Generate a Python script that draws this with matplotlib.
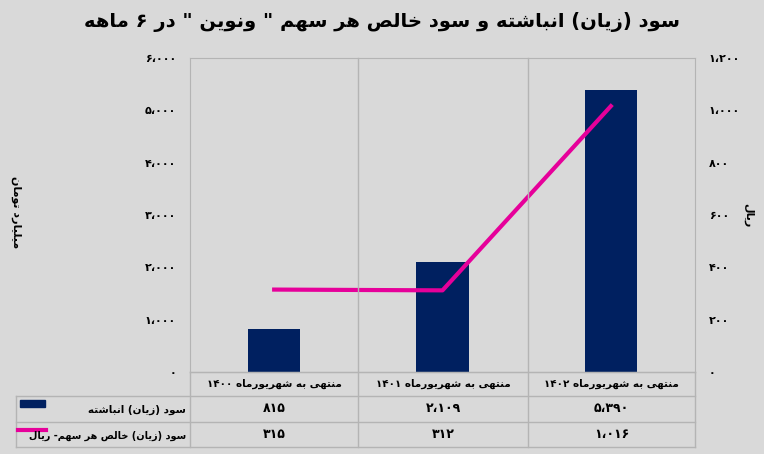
import matplotlib
matplotlib.use("Agg")
import matplotlib.pyplot as plt
from matplotlib.lines import Line2D

categories = ["منتهی به شهریورماه ۱۴۰۰", "منتهی به شهریورماه ۱۴۰۱", "منتهی به شهریورماه ۱۴۰۲"]
bar_values = [815, 2109, 5390]
line_values = [315, 312, 1016]
bar_labels = ["۸۱۵", "۲،۱۰۹", "۵،۳۹۰"]
line_labels = ["۳۱۵", "۳۱۲", "۱،۰۱۶"]
left_ticks = [0, 1000, 2000, 3000, 4000, 5000, 6000]
left_tick_labels = ["۰", "۱،۰۰۰", "۲،۰۰۰", "۳،۰۰۰", "۴،۰۰۰", "۵،۰۰۰", "۶،۰۰۰"]
right_ticks = [0, 200, 400, 600, 800, 1000, 1200]
right_tick_labels = ["۰", "۲۰۰", "۴۰۰", "۶۰۰", "۸۰۰", "۱،۰۰۰", "۱،۲۰۰"]
title = 'سود (زیان) انباشته و سود خالص هر سهم " ونوین " در ۶ ماهه'
series_names = ["سود (زیان) انباشته", "سود (زیان) خالص هر سهم- ریال"]
left_label = "میلیارد تومان"
right_label = "ریال"

FORMS = {
    'ا': ('\uFE8D', '\uFE8E', None, None), 'ب': ('\uFE8F', '\uFE90', '\uFE91', '\uFE92'),
    'ت': ('\uFE95', '\uFE96', '\uFE97', '\uFE98'), 'خ': ('\uFEA5', '\uFEA6', '\uFEA7', '\uFEA8'),
    'د': ('\uFEA9', '\uFEAA', None, None), 'ر': ('\uFEAD', '\uFEAE', None, None),
    'ز': ('\uFEAF', '\uFEB0', None, None), 'س': ('\uFEB1', '\uFEB2', '\uFEB3', '\uFEB4'),
    'ش': ('\uFEB5', '\uFEB6', '\uFEB7', '\uFEB8'), 'ص': ('\uFEB9', '\uFEBA', '\uFEBB', '\uFEBC'),
    'ل': ('\uFEDD', '\uFEDE', '\uFEDF', '\uFEE0'), 'م': ('\uFEE1', '\uFEE2', '\uFEE3', '\uFEE4'),
    'ن': ('\uFEE5', '\uFEE6', '\uFEE7', '\uFEE8'), 'ه': ('\uFEE9', '\uFEEA', '\uFEEB', '\uFEEC'),
    'و': ('\uFEED', '\uFEEE', None, None), 'ی': ('\uFBFC', '\uFBFD', '\uFBFE', '\uFBFF'),
}

def shape(s):
    out = []
    n = len(s)
    for i, c in enumerate(s):
        if c not in FORMS:
            out.append(c); continue
        prev = s[i-1] if i > 0 else None
        nxt = s[i+1] if i < n-1 else None
        jp = prev in FORMS and FORMS[prev][2] is not None
        jn = nxt in FORMS and FORMS[c][2] is not None
        f = FORMS[c]
        if jp and jn: out.append(f[3])
        elif jp: out.append(f[1])
        elif jn: out.append(f[2])
        else: out.append(f[0])
    s2 = ''.join(out)
    tokens, cur = [], ''
    for c in s2:
        if '\u06F0' <= c <= '\u06F9' or c == '،':
            cur += c
        else:
            if cur: tokens.append(cur); cur = ''
            tokens.append({'(': ')', ')': '('}.get(c, c))
    if cur: tokens.append(cur)
    return ''.join(reversed(tokens))

plt.rcParams['font.family'] = ['DejaVu Sans']
plt.rcParams['font.weight'] = 'bold'
W, H = 764, 454
BG = '#d9d9d9'
GRID = '#b4b4b4'
BAR = '#002060'
LINE = '#e6009a'
fig = plt.figure(figsize=(W/100, H/100), dpi=100, facecolor=BG)

def px(x, y):
    return x / W, 1 - y / H

L, R, T, B = 190, 695, 58, 372
ax = fig.add_axes([L/W, 1-B/H, (R-L)/W, (B-T)/H])
ax.set_facecolor(BG)
x = list(range(len(categories)))
ax.bar(x, bar_values, width=0.31, color=BAR)
ax.set_xlim(-0.5, 2.5)
ax.set_ylim(0, 6000)
ax.set_yticks(left_ticks)
ax.set_yticklabels(left_tick_labels, fontsize=8)
ax.set_xticks([])
for s in ax.spines.values():
    s.set_color(GRID)
ax.spines['right'].set_visible(False)
ax.tick_params(axis='y', length=0, pad=10)
ax2 = ax.twinx()
ax2.plot(x, line_values, color=LINE, lw=3)
ax2.set_ylim(0, 1200)
ax2.set_yticks(right_ticks)
ax2.set_yticklabels(right_tick_labels, fontsize=8)
ax2.tick_params(axis='y', length=0, pad=10)
for s in ax2.spines.values():
    s.set_visible(False)
ax2.spines['right'].set_visible(True)
ax2.spines['right'].set_color(GRID)

fig.text(*px(382, 22), shape(title), ha='center', va='center', fontsize=14, fontweight='bold')
fig.text(*px(16, 212), shape(left_label), rotation=270, ha='center', va='center', fontsize=8)
fig.text(*px(748, 215), shape(right_label), rotation=270, ha='center', va='center', fontsize=8)

cols = [16, 190, 358, 528, 695]
rows = [372, 396, 422, 447]
def line(x0, y0, x1, y1):
    fig.add_artist(Line2D([x0/W, x1/W], [1-y0/H, 1-y1/H], color=GRID, lw=1))
for c in cols[1:]:
    line(c, T if c in (358, 528) else rows[0], c, rows[-1])
line(cols[0], rows[1], cols[0], rows[-1])
line(cols[1], rows[0], cols[-1], rows[0])
for r in rows[1:]:
    line(cols[0], r, cols[-1], r)
for i, cat in enumerate(categories):
    cx = (cols[i+1] + cols[i+2]) / 2
    fig.text(*px(cx, 384), shape(cat), ha='center', va='center', fontsize=7.5)
    fig.text(*px(cx, 409), bar_labels[i], ha='center', va='center', fontsize=9)
    fig.text(*px(cx, 435), line_labels[i], ha='center', va='center', fontsize=9)
fig.text(*px(186, 410), shape(series_names[0]), ha='right', va='center', fontsize=7.5)
fig.text(*px(186, 436), shape(series_names[1]), ha='right', va='center', fontsize=7)
fig.add_artist(plt.Rectangle((20/W, 1-407/H), 25/W, 7/H, color=BAR, transform=fig.transFigure))
fig.add_artist(Line2D([18/W, 46/W], [1-430/H, 1-430/H], color=LINE, lw=3))

fig.savefig('out.png', dpi=100, facecolor=BG)
